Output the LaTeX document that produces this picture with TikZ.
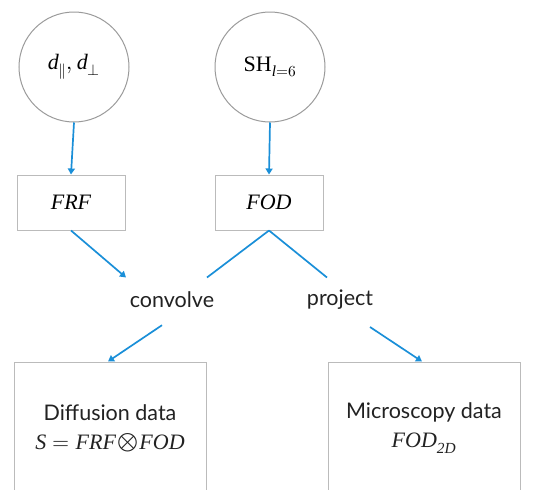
\documentclass[tikz,border=0pt]{standalone}
\usepackage{amsmath}
\usepackage{fontspec}
\usepackage{unicode-math}
\setmainfont{Lato}
\setmathfont{latinmodern-math.otf}
\newfontfamily\mf{Liberation Serif}
\newcommand{\mi}[1]{\text{\mf\itshape #1}}
\newcommand{\mup}[1]{\text{\mf #1}}
\usetikzlibrary{arrows.meta,calc}
\definecolor{arrblue}{HTML}{1A8FD8}
\definecolor{circgray}{HTML}{9A9A9A}
\definecolor{boxgray}{HTML}{BBBBBB}
\definecolor{txtgray}{HTML}{222222}
\begin{document}
\begin{tikzpicture}[x=1pt,y=-1pt,
  inp/.style={circle,draw=circgray,line width=1pt,minimum size=110pt,inner sep=0pt,font=\fontsize{22}{24}\selectfont},
  midbox/.style={rectangle,draw=boxgray,line width=1pt,minimum width=108pt,minimum height=55pt,inner sep=0pt,font=\fontsize{22}{24}\selectfont},
  outbox/.style={rectangle,draw=boxgray,line width=1pt,minimum width=192pt,minimum height=132pt,inner sep=0pt,align=center,font=\fontsize{21.5}{29}\selectfont,text=txtgray},
  lab/.style={inner sep=0pt,font=\fontsize{21.5}{23}\selectfont,text=txtgray},
  arr/.style={draw=arrblue,line width=1.7pt,-{Triangle[length=6pt,width=7pt]}},
  ln/.style={draw=arrblue,line width=1.7pt}]
\useasboundingbox (0,0) rectangle (544,490);
\clip (0,0) rectangle (544,490);
\node[inp] (dd) at (74,67) {$\mi{d}_{\parallel},\mi{d}_{\perp}$};
\node[inp] (sh) at (270,67) {$\mup{SH}_{\mi{l}=6}$};
\node[midbox] (frf) at (71,202.5) {$\mi{FRF}$};
\node[midbox] (fod) at (269,202.5) {$\mi{FOD}$};
\node[lab] (convolve) at (172,300) {convolve};
\node[lab] (project) at (340,300) {project};
\node[outbox] (diff) at (110,428) {Diffusion data\\ {\fontsize{22}{24}\selectfont$\mi{S}=\mi{FRF}{\mkern1mu\text{\fontsize{27}{27}\selectfont$\otimes$}\mkern1mu}\mi{FOD}$}};
\node[outbox] (micro) at (424,428) {Microscopy data\\ {\fontsize{22}{24}\selectfont$\mi{FOD}_{\mi{2D}}$}};
\coordinate (cin1) at ($(frf.south)+(55,47)$);
\coordinate (cin2) at ($(fod.south)+(-62,47)$);
\coordinate (pin) at ($(fod.south)+(58,47)$);
\coordinate (cout) at ($(convolve.south)+(-10,17)$);
\coordinate (pout) at ($(project.south)+(30,17)$);
\draw[arr] (dd.south) -- (frf.north);
\draw[arr] (sh.south) -- (fod.north);
\draw[arr] (frf.south) -- (cin1);
\draw[ln] (fod.south) -- (cin2);
\draw[ln] (fod.south) -- (pin);
\draw[arr] (cout) -- ([xshift=-2pt]diff.north);
\draw[arr] (pout) -- ([xshift=-2pt]micro.north);
\end{tikzpicture}
\end{document}
